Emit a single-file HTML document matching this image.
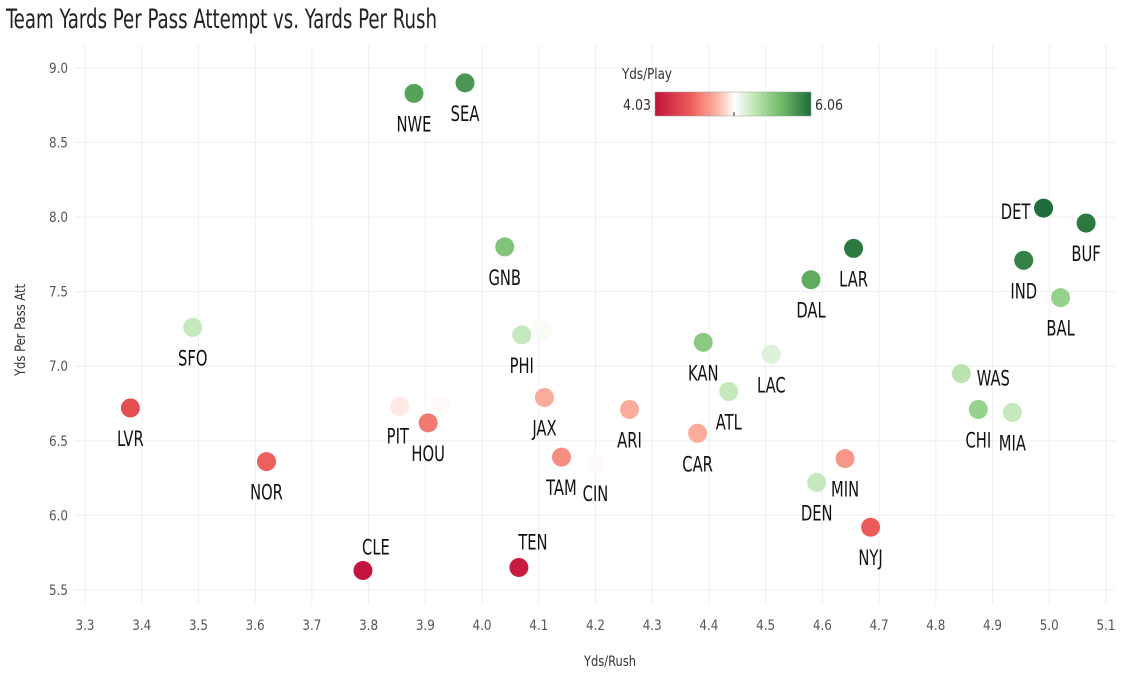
<!DOCTYPE html>
<html><head><meta charset="utf-8">
<style>
body{margin:0;background:#fff;}
svg text{font-family:"Liberation Sans Narrow","DejaVu Sans Condensed","Liberation Sans",sans-serif;}
</style></head>
<body>
<svg id="chart" width="1121" height="674" viewBox="0 0 1121 674" xmlns="http://www.w3.org/2000/svg">
<defs>
<linearGradient id="cbar" x1="0" x2="1" y1="0" y2="0">
<stop offset="0" stop-color="#c0113b"/>
<stop offset="0.22" stop-color="#ec5a57"/>
<stop offset="0.4" stop-color="#fcb5a4"/>
<stop offset="0.51" stop-color="#ffffff"/>
<stop offset="0.66" stop-color="#b5e1a9"/>
<stop offset="0.82" stop-color="#6bb865"/>
<stop offset="1" stop-color="#1e6b3a"/>
</linearGradient>
</defs>
<text x="6" y="28" font-size="27" fill="#222" textLength="431" lengthAdjust="spacingAndGlyphs">Team Yards Per Pass Attempt vs. Yards Per Rush</text>
<g id="grid"></g>
<g id="points"></g>
<text x="610" y="666" font-size="14" fill="#333" text-anchor="middle" textLength="52" lengthAdjust="spacingAndGlyphs">Yds/Rush</text>
<text transform="translate(25,330) rotate(-90)" font-size="14" fill="#333" text-anchor="middle" textLength="92" lengthAdjust="spacingAndGlyphs">Yds Per Pass Att</text>
<g>
<text x="622" y="79" font-size="15" fill="#333" textLength="50" lengthAdjust="spacingAndGlyphs">Yds/Play</text>
<rect x="655" y="92" width="156" height="24" fill="url(#cbar)" stroke="#999" stroke-width="0.5"/>
<line x1="734" x2="734" y1="112" y2="116" stroke="#333"/>
<text x="651" y="110" font-size="15" fill="#333" text-anchor="end" textLength="28" lengthAdjust="spacingAndGlyphs">4.03</text>
<text x="815" y="110" font-size="15" fill="#333" textLength="28" lengthAdjust="spacingAndGlyphs">6.06</text>
</g>
</svg>
<script>
const teams=["NWE","SEA","GNB","SFO","PHI","","LVR","NOR","PIT","","HOU","CLE","TEN","JAX","TAM","CIN","ARI","CAR","KAN","ATL","LAC","DAL","LAR","DEN","MIN","NYJ","WAS","CHI","MIA","DET","IND","BUF","BAL"];
const ydsRush=[3.88,3.97,4.04,3.49,4.07,4.106,3.38,3.62,3.855,3.926,3.905,3.79,4.065,4.11,4.14,4.2,4.26,4.38,4.39,4.435,4.51,4.58,4.655,4.59,4.64,4.685,4.845,4.875,4.935,4.99,4.955,5.065,5.02];
const ydsPass=[8.83,8.90,7.80,7.26,7.21,7.24,6.72,6.36,6.73,6.75,6.62,5.63,5.65,6.79,6.39,6.35,6.71,6.55,7.16,6.83,7.08,7.58,7.79,6.22,6.38,5.92,6.95,6.71,6.69,8.06,7.71,7.96,7.46];
const ydsPlay=[5.8,5.85,5.6,5.3,5.3,5.1,4.4,4.5,5.0,5.05,4.6,4.05,4.1,4.8,4.68,5.05,4.8,4.8,5.55,5.3,5.2,5.75,6.0,5.3,4.72,4.48,5.35,5.5,5.3,6.05,5.95,6.0,5.5];
const xTicks=[3.3,3.4,3.5,3.6,3.7,3.8,3.9,4.0,4.1,4.2,4.3,4.4,4.5,4.6,4.7,4.8,4.9,5.0,5.1];
const yTicks=[5.5,6.0,6.5,7.0,7.5,8.0,8.5,9.0];
const labelOffsets={PIT:[-2,29],CLE:[13,-24],TEN:[14,-26],WAS:[32,4],DET:[-28,3]};
const NS="http://www.w3.org/2000/svg";
const xs=v=>85+(v-3.3)*567.2;
const ys=v=>68+(9.0-v)*149.1;
const stops=[[0,[192,17,59]],[0.22,[236,90,87]],[0.4,[252,181,164]],[0.51,[255,255,255]],[0.66,[181,225,169]],[0.82,[107,184,101]],[1,[30,107,58]]];
function col(v){let t=Math.max(0,Math.min(1,(v-4.03)/(6.06-4.03)));for(let i=1;i<stops.length;i++){if(t<=stops[i][0]){const a=stops[i-1],b=stops[i];const f=(t-a[0])/(b[0]-a[0]);const c=a[1].map((x,k)=>Math.round(x+(b[1][k]-x)*f));return `rgb(${c})`;}}return "rgb(30,107,58)";}
function mk(tag,attrs,parent){const e=document.createElementNS(NS,tag);for(const k in attrs)e.setAttribute(k,attrs[k]);parent.appendChild(e);return e;}
const grid=document.getElementById('grid');
xTicks.forEach(t=>{
  const l=mk('line',{x1:xs(t),x2:xs(t),y1:45,y2:605,stroke:'#efefef'},grid);
  
  
  const tx=mk('text',{x:xs(t),y:630,'font-size':14,fill:'#555','text-anchor':'middle',textLength:19,lengthAdjust:'spacingAndGlyphs'},grid);
  
  
  tx.textContent=t.toFixed(1);
});
yTicks.forEach(t=>{
  const l=mk('line',{x1:75,x2:1115,y1:ys(t),y2:ys(t),stroke:'#efefef'},grid);
  
  
  const tx=mk('text',{x:68,y:ys(t)+5,'font-size':14,fill:'#555','text-anchor':'end',textLength:19,lengthAdjust:'spacingAndGlyphs'},grid);
  
  
  tx.textContent=t.toFixed(1);
});
const pts=document.getElementById('points');
teams.forEach((tm,i)=>{
  const cx=xs(ydsRush[i]),cy=ys(ydsPass[i]);
  const c=mk('circle',{cx:cx,cy:cy,r:9.5,fill:col(ydsPlay[i])},pts);
  
  
  if(tm){
    const o=labelOffsets[tm]||[0,30];
    const g=mk('g',{transform:`translate(${cx+o[0]},${cy+o[1]+8}) scale(0.78,1)`},pts);
    const t=mk('text',{x:0,y:0,'font-size':21,fill:'#111','text-anchor':'middle'},g);
    
    
    t.textContent=tm;
  }
});
</script>
</body></html>
